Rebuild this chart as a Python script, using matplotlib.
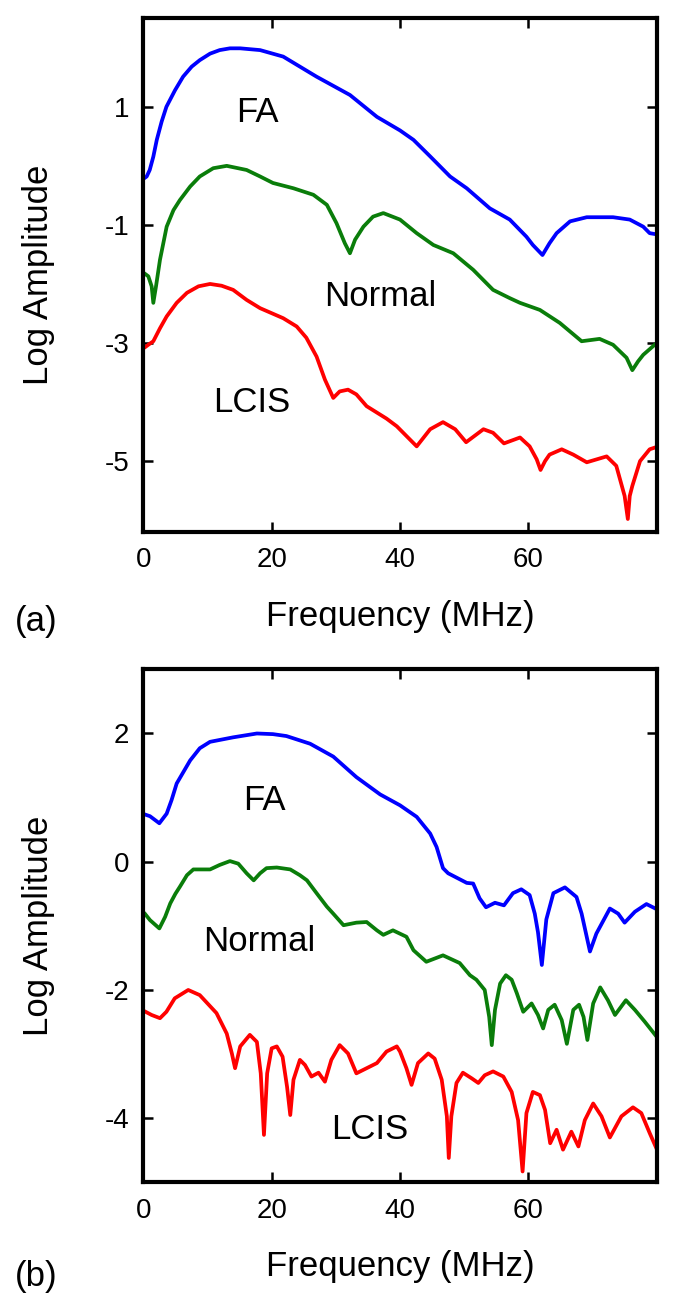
import numpy as np
import matplotlib
matplotlib.use('Agg')
import matplotlib.pyplot as plt

plt.rcParams['font.family'] = ['Liberation Sans', 'DejaVu Sans']
plt.rcParams['axes.unicode_minus'] = False

# ---- panel (a) data ----
fa_a_x = [0.15, 0.53, 1.0, 1.56, 2.1, 2.86, 3.6, 4.94, 6.2, 7.54, 8.8, 10.4, 11.9, 13.5, 15.1,
          18.2, 21.8, 27.0, 32.2, 36.4, 40.0, 42.1, 44.7, 47.8, 50.4, 54.0, 57.1, 59.7, 60.7,
          62.2, 63.3, 64.4, 66.5, 69.1, 73.2, 75.8, 77.9, 78.9, 80.0]
fa_a_y = [-0.21, -0.18, -0.07, 0.155, 0.44, 0.75, 1.0, 1.28, 1.51, 1.68, 1.79, 1.90, 1.96, 1.99,
          1.99, 1.96, 1.85, 1.51, 1.20, 0.83, 0.60, 0.44, 0.16, -0.18, -0.38, -0.72, -0.91,
          -1.20, -1.34, -1.51, -1.31, -1.14, -0.94, -0.87, -0.87, -0.91, -1.03, -1.14, -1.16]

nor_a_x = [0.16, 0.78, 1.3, 1.56, 1.98, 2.6, 3.64, 4.7, 5.7, 7.3, 8.8, 10.9, 13.0, 16.1, 18.2,
           20.2, 23.4, 26.5, 28.6, 30.1, 31.4, 32.2, 33.0, 34.3, 35.8, 37.4, 40.0, 42.6, 45.2,
           48.3, 51.4, 54.5, 57.1, 58.7, 61.8, 64.9, 68.3, 71.1, 73.2, 75.3, 76.2, 77.1,
           77.9, 80.0]
nor_a_y = [-1.82, -1.87, -2.04, -2.32, -2.04, -1.59, -1.03, -0.75, -0.58, -0.35, -0.18, -0.04,
           0.0, -0.07, -0.18, -0.29, -0.38, -0.49, -0.66, -0.97, -1.31, -1.48, -1.25, -1.03,
           -0.86, -0.80, -0.91, -1.14, -1.34, -1.48, -1.76, -2.10, -2.24, -2.32, -2.44, -2.66,
           -2.97, -2.93, -3.03, -3.25, -3.46, -3.31, -3.20, -3.0]

lcis_a_x = [0.16, 0.78, 1.56, 2.6, 3.64, 5.2, 6.8, 8.6, 10.4, 12.2, 14.0, 16.1, 18.2, 21.8,
            23.9, 25.4, 27.0, 28.3, 29.6, 30.6, 31.9, 33.2, 34.8, 37.9, 39.5, 42.6, 44.7, 46.7,
            48.6, 50.3, 53.0, 54.5, 56.2, 58.7, 60.2, 61.3, 61.9, 62.6, 63.3, 65.2, 67.0, 69.1,
            72.2, 73.7, 75.0, 75.5, 75.8, 76.2, 77.4, 78.9, 80.0]
lcis_a_y = [-3.08, -3.03, -2.97, -2.75, -2.55, -2.32, -2.15, -2.04, -2.0, -2.03, -2.10, -2.27,
            -2.41, -2.58, -2.72, -2.91, -3.23, -3.62, -3.93, -3.82, -3.79, -3.87, -4.07, -4.28,
            -4.41, -4.75, -4.46, -4.34, -4.46, -4.68, -4.46, -4.52, -4.70, -4.60, -4.75, -4.97,
            -5.15, -5.0, -4.89, -4.80, -4.89, -5.02, -4.92, -5.08, -5.59, -5.98, -5.59, -5.42,
            -5.0, -4.80, -4.76]

# ---- panel (b) data ----
fa_b_x = [0.16, 1.04, 2.5, 3.64, 4.4, 5.2, 7.3, 8.8, 10.4, 14.0, 17.7, 20.2, 22.3, 26.0, 29.6,
          33.2, 36.9, 40.0, 42.6, 44.7, 45.7, 46.7, 47.5, 50.4, 51.4, 52.4, 53.4, 54.8, 56.2,
          57.6, 58.9, 60.2, 61.0, 61.5, 62.1, 62.8, 63.9, 65.7, 67.5, 68.3, 69.6, 70.6, 72.7,
          74.0, 75.0, 76.6, 78.4, 80.0]
fa_b_y = [0.74, 0.71, 0.60, 0.75, 0.96, 1.22, 1.58, 1.77, 1.87, 1.94, 2.0, 1.99, 1.96, 1.84, 1.64,
          1.32, 1.05, 0.88, 0.70, 0.44, 0.23, -0.10, -0.18, -0.33, -0.34, -0.57, -0.71, -0.64,
          -0.68, -0.49, -0.43, -0.52, -0.81, -1.10, -1.61, -0.90, -0.49, -0.40, -0.55, -0.81,
          -1.40, -1.12, -0.73, -0.81, -0.95, -0.78, -0.66, -0.74]

nor_b_x = [0.16, 1.04, 2.5, 3.4, 4.2, 5.0, 5.7, 6.8, 7.8, 10.4, 11.9, 13.5, 14.8, 16.1, 17.2,
           18.2, 19.2, 20.8, 22.9, 24.4, 25.5, 27.0, 28.6, 29.6, 31.2, 33.2, 34.8, 36.4, 37.4,
           38.9, 41.0, 42.1, 44.1, 46.7, 49.3, 50.9, 51.9, 53.2, 53.9, 54.3, 54.8, 55.6, 56.5,
           57.4, 58.2, 59.2, 60.5, 61.5, 62.3, 63.1, 64.1, 65.2, 66.0, 67.0, 67.9, 68.6, 69.2,
           70.1, 71.2, 72.4, 73.5, 75.2, 76.6, 78.1, 80.0]
nor_b_y = [-0.80, -0.91, -1.04, -0.86, -0.65, -0.50, -0.39, -0.21, -0.12, -0.12, -0.05, 0.01,
           -0.03, -0.18, -0.29, -0.18, -0.10, -0.09, -0.12, -0.21, -0.29, -0.49, -0.70, -0.81,
           -0.99, -0.95, -0.94, -1.07, -1.14, -1.07, -1.17, -1.38, -1.56, -1.46, -1.58, -1.77,
           -1.84, -2.0, -2.42, -2.86, -2.31, -1.90, -1.77, -1.84, -2.05, -2.34, -2.21, -2.39,
           -2.60, -2.31, -2.23, -2.47, -2.84, -2.31, -2.23, -2.42, -2.78, -2.21, -1.96, -2.16,
           -2.39, -2.16, -2.31, -2.49, -2.73]

lcis_b_x = [0.16, 1.3, 2.6, 3.6, 4.9, 7.0, 8.8, 11.4, 13.0, 13.8, 14.3, 15.1, 16.6, 17.7, 18.3,
            18.8, 19.3, 20.0, 20.8, 21.7, 22.4, 22.9, 23.4, 24.4, 25.2, 26.2, 27.3, 28.3, 29.3,
            30.6, 31.9, 33.2, 34.8, 36.4, 37.9, 39.5, 40.0, 41.0, 41.8, 42.8, 44.4, 45.4, 46.5,
            47.3, 47.6, 48.0, 48.8, 49.8, 51.2, 52.2, 53.2, 54.5, 56.1, 57.4, 58.4, 59.1, 59.7,
            60.7, 61.8, 62.6, 63.4, 64.4, 65.4, 66.7, 67.8, 68.8, 70.1, 71.4, 72.7, 74.5, 76.3,
            77.6, 78.9, 80.0]
lcis_b_y = [-2.33, -2.39, -2.44, -2.34, -2.13, -2.0, -2.08, -2.36, -2.68, -2.99, -3.22, -2.88,
            -2.70, -2.81, -3.30, -4.26, -3.30, -2.91, -2.88, -3.04, -3.51, -3.95, -3.40, -3.09,
            -3.17, -3.35, -3.29, -3.43, -3.09, -2.86, -2.99, -3.30, -3.22, -3.14, -2.96, -2.88,
            -2.96, -3.22, -3.48, -3.14, -2.99, -3.07, -3.40, -3.97, -4.62, -3.97, -3.45, -3.29,
            -3.38, -3.45, -3.33, -3.27, -3.35, -3.59, -4.03, -4.83, -3.92, -3.59, -3.64, -3.87,
            -4.39, -4.18, -4.49, -4.21, -4.44, -4.03, -3.77, -3.97, -4.30, -3.97, -3.83, -3.92,
            -4.23, -4.48]

x_ticks = [0, 20, 40, 60]
y_ticks_a = [1, -1, -3, -5]
y_ticks_b = [2, 0, -2, -4]

BLUE, GREEN, RED = '#0000ff', '#0a7d0a', '#ff0000'
LW = 2.7

fig = plt.figure(figsize=(6.85, 13.01), dpi=100)
ax_a = fig.add_axes([0.2092, 0.5911, 0.7495, 0.3949])
ax_b = fig.add_axes([0.2092, 0.0912, 0.7495, 0.3943])


def style_axes(ax, yticks, ylim, xlab_y):
    ax.set_xlim(0, 80)
    ax.set_ylim(*ylim)
    ax.set_xticks(x_ticks)
    ax.set_yticks(yticks)
    ax.tick_params(direction='in', top=True, right=True, length=7, width=1.8,
                   labelsize=20)
    ax.tick_params(axis='x', pad=11)
    ax.tick_params(axis='y', pad=10)
    for s in ax.spines.values():
        s.set_linewidth(3.0)
    ax.set_xlabel('Frequency (MHz)', fontsize=25, va='center')
    ax.xaxis.set_label_coords(0.5, xlab_y)
    ax.set_ylabel('Log Amplitude', fontsize=25, va='center')
    ax.yaxis.set_label_coords(-0.205, 0.5)


def draw(ax, xs, ys, color):
    ax.plot(xs, ys, color=color, lw=LW, solid_joinstyle='round',
            solid_capstyle='round')


# panel (a)
draw(ax_a, fa_a_x, fa_a_y, BLUE)
draw(ax_a, nor_a_x, nor_a_y, GREEN)
draw(ax_a, lcis_a_x, lcis_a_y, RED)
style_axes(ax_a, y_ticks_a, (-6.2, 2.5), -0.165)
ax_a.text(17.7, 0.91, 'FA', fontsize=25, ha='center', va='center')
ax_a.text(36.9, -2.22, 'Normal', fontsize=25, ha='center', va='center')
ax_a.text(16.9, -4.01, 'LCIS', fontsize=25, ha='center', va='center')

# panel (b)
draw(ax_b, fa_b_x, fa_b_y, BLUE)
draw(ax_b, nor_b_x, nor_b_y, GREEN)
draw(ax_b, lcis_b_x, lcis_b_y, RED)
style_axes(ax_b, y_ticks_b, (-5, 3), -0.165)
ax_b.text(18.8, 0.96, 'FA', fontsize=25, ha='center', va='center')
ax_b.text(18.0, -1.25, 'Normal', fontsize=25, ha='center', va='center')
ax_b.text(35.3, -4.18, 'LCIS', fontsize=25, ha='center', va='center')

fig.text(0.053, 0.522, '(a)', fontsize=25, ha='center', va='center')
fig.text(0.053, 0.019, '(b)', fontsize=25, ha='center', va='center')

fig.savefig('out.png', dpi=100)
